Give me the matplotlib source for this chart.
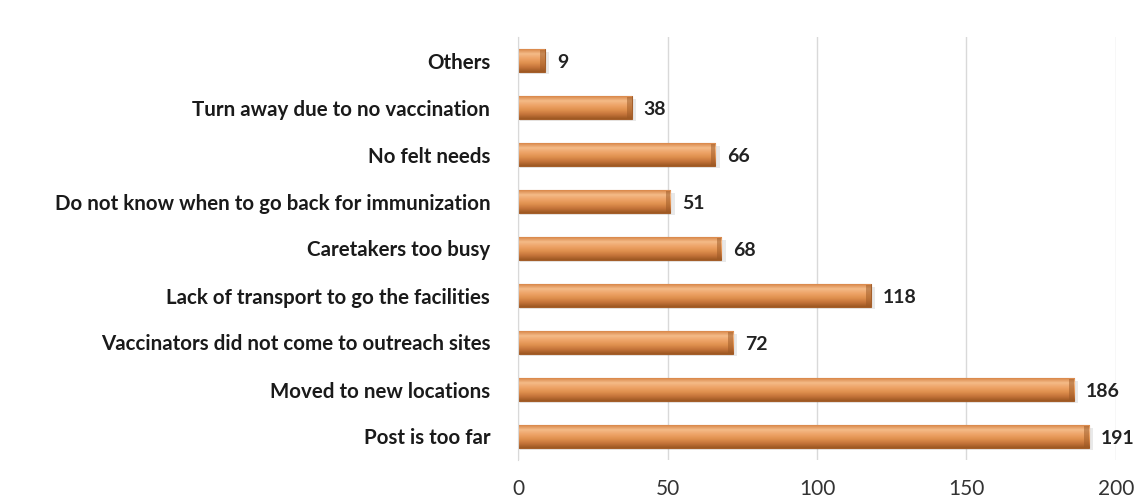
import numpy as np
import matplotlib.pyplot as plt
from matplotlib.colors import LinearSegmentedColormap

# reasons for missed immunization, listed bottom to top
reasons = ['Post is too far',
           'Moved to new locations',
           'Vaccinators did not come to outreach sites',
           'Lack of transport to go the facilities',
           'Caretakers too busy',
           'Do not know when to go back for immunization',
           'No felt needs',
           'Turn away due to no vaccination',
           'Others']
counts = [191, 186, 72, 118, 68, 51, 66, 38, 9]
xticks = [0, 50, 100, 150, 200]

plt.rcParams['font.family'] = ['Lato', 'DejaVu Sans']

fig = plt.figure(figsize=(11.37, 5), dpi=100)
ax = fig.add_axes([0.4556, 0.08, 0.5259, 0.846])

ypos = np.arange(len(reasons))
bh = 0.47

# soft shadow under each bar
for y, v in zip(ypos, counts):
    ax.barh(y - 0.06, v + 0.8, height=bh, left=0.6, color='#7a7a7a', alpha=0.16, zorder=1.5, linewidth=0)

bars = ax.barh(ypos, counts, height=bh, color='#d98a4a', edgecolor='#a45f2b', linewidth=0.8, zorder=2)

# cylinder-like shading for the bars
shade = LinearSegmentedColormap.from_list('shade', ['#9c5722', '#c5743a', '#e0914f', '#eea468', '#f4bb88', '#d9884a'])
grad = np.linspace(0, 1, 64).reshape(-1, 1)
for b in bars:
    x0, y0 = b.get_x(), b.get_y()
    w, h = b.get_width(), b.get_height()
    im = ax.imshow(grad, cmap=shade, aspect='auto', origin='lower',
                   extent=[x0, x0 + w, y0, y0 + h], zorder=2.1)
    im.set_clip_path(b)
    # darker end cap
    cap = min(1.6, w * 0.2)
    ax.barh(y0 + h / 2, cap, height=h * 0.92, left=x0 + w - cap,
            color='#9a5825', alpha=0.5, zorder=2.2, linewidth=0)

for y, v in zip(ypos, counts):
    ax.text(v + 4, y - 0.05, str(v), ha='left', va='center', fontsize=14,
            fontweight='bold', color='#222222')

ax.set_xlim(0, 200)
ax.set_ylim(-0.5, len(reasons) - 0.5)
ax.set_xticks(xticks)
ax.set_yticks(ypos)
ax.set_yticklabels(reasons, fontsize=14.8, fontweight='bold', color='#1a1a1a')
ax.tick_params(axis='y', length=0, pad=20)
ax.tick_params(axis='x', length=0, pad=14, labelsize=15, labelcolor='#333333')
ax.grid(axis='x', color='#d9d9d9', linewidth=1, zorder=0)
ax.set_axisbelow(True)
for s in ['top', 'right', 'bottom']:
    ax.spines[s].set_visible(False)
ax.spines['left'].set_color('#d9d9d9')

fig.savefig('out.png', dpi=100, facecolor='white')
